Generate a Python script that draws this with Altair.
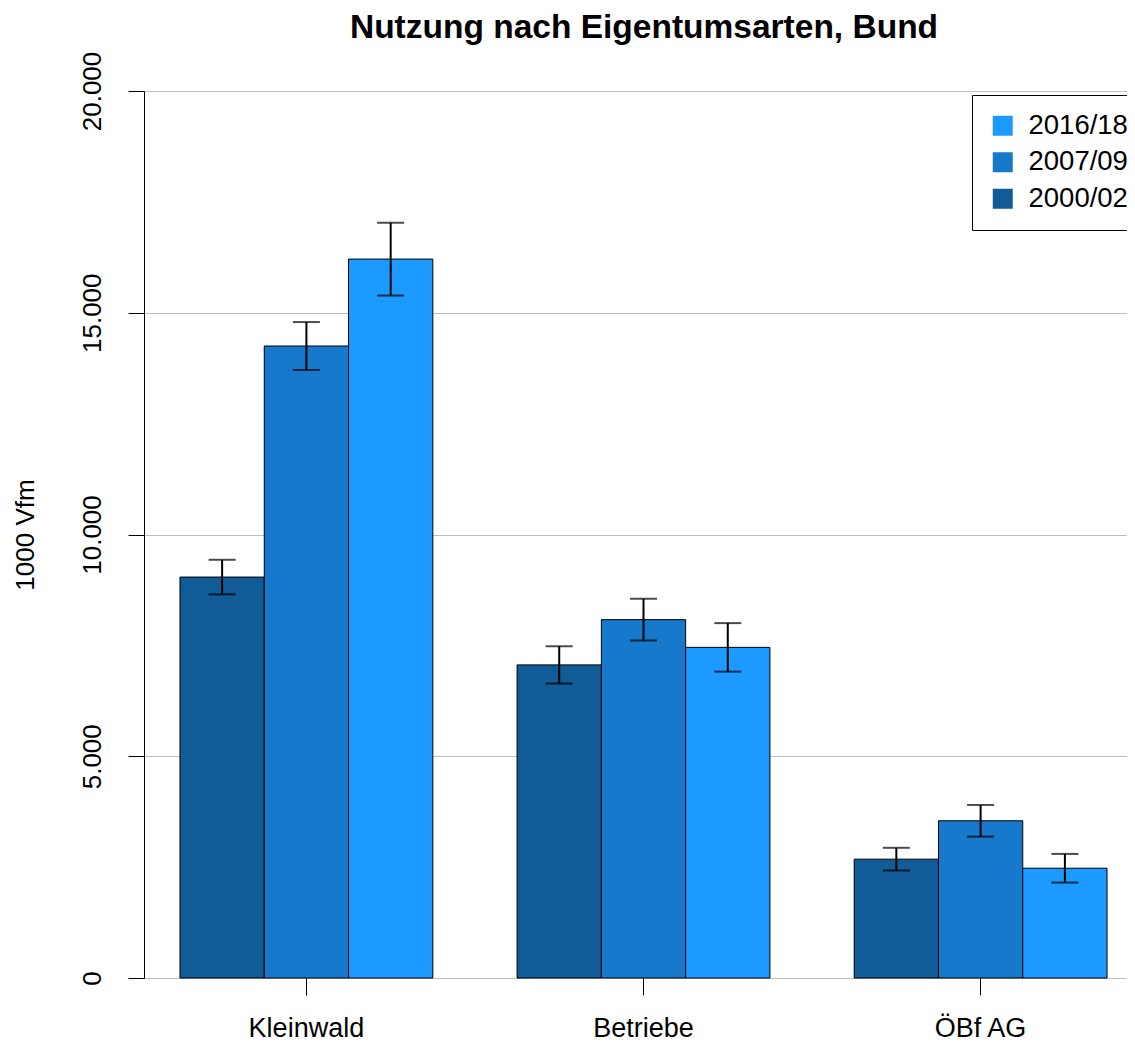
import altair as alt
import pandas as pd

categories = ["Kleinwald", "Betriebe", "ÖBf AG"]
periods = ["2000/02", "2007/09", "2016/18"]
values_2000 = [9040, 7060, 2680]
errors_2000 = [390, 420, 256]
values_2007 = [14250, 8080, 3545]
errors_2007 = [540, 472, 357]
values_2016 = [16210, 7455, 2475]
errors_2016 = [820, 547, 323]
colors = {"2000/02": "#115B97", "2007/09": "#1679CB", "2016/18": "#1C9AFF"}
y_ticks = [0, 5000, 10000, 15000, 20000]

rows = []
for period, vals, errs in [("2000/02", values_2000, errors_2000),
                           ("2007/09", values_2007, errors_2007),
                           ("2016/18", values_2016, errors_2016)]:
    for c, v, e in zip(categories, vals, errs):
        rows.append({"cat": c, "period": period, "value": v, "lo": v - e, "hi": v + e})
df = pd.DataFrame(rows)

FONT = "Liberation Sans"
legend_order = ["2016/18", "2007/09", "2000/02"]
W, H = 983, 887

x_enc = alt.X("cat:N", sort=categories,
              scale=alt.Scale(paddingInner=0.25, paddingOuter=0.083, align=0.643),
              axis=alt.Axis(title=None, domain=False, grid=False, ticks=True, tickSize=17,
                            tickColor="black", tickWidth=1, labelAngle=0,
                            labelFontSize=27, labelFont=FONT, labelColor="black",
                            labelBaseline="alphabetic", labelPadding=41))
xoff = alt.XOffset("period:N", sort=periods, scale=alt.Scale(paddingInner=0, paddingOuter=0))

y_enc = alt.Y("value:Q",
              scale=alt.Scale(domain=[0, 20000], nice=False, zero=True),
              axis=alt.Axis(values=y_ticks, format=",d",
                            labelExpr="replace(datum.label, ',', '.')",
                            labelAngle=270, labelAlign="center", labelBaseline="alphabetic",
                            labelPadding=28, tickSize=16, tickColor="black", domainColor="black",
                            labelFontSize=26, labelFont=FONT, labelColor="black",
                            labelFlush=False, labelOverlap=False,
                            gridColor="#BEBEBE", gridWidth=1,
                            title="1000 Vfm", titleFont=FONT, titleFontSize=26,
                            titleFontWeight="normal", titleColor="black",
                            titleAngle=270, titleAlign="center", titleBaseline="alphabetic",
                            titleX=-110.5, titleY=H / 2))

bars = alt.Chart(df).mark_bar(stroke="black", strokeWidth=1).encode(
    x=x_enc, xOffset=xoff, y=y_enc,
    color=alt.Color("period:N",
                    scale=alt.Scale(domain=legend_order, range=[colors[p] for p in legend_order]),
                    legend=alt.Legend(title=None, orient="none", legendX=828, legendY=4,
                                      symbolType="square", symbolSize=400, symbolStrokeWidth=0,
                                      labelFontSize=27.5, labelFont=FONT, labelColor="black",
                                      labelOffset=12, rowPadding=7.5, padding=17,
                                      strokeColor="black", fillColor="white")),
)

rules = alt.Chart(df).mark_rule(color="black", strokeWidth=2).encode(
    x=alt.X("cat:N", sort=categories), xOffset=xoff,
    y=alt.Y("lo:Q"), y2="hi:Q")

caps_lo = alt.Chart(df).mark_tick(color="black", thickness=2, size=27).encode(
    x=alt.X("cat:N", sort=categories), xOffset=xoff, y=alt.Y("lo:Q"))
caps_hi = alt.Chart(df).mark_tick(color="black", thickness=2, size=27).encode(
    x=alt.X("cat:N", sort=categories), xOffset=xoff, y=alt.Y("hi:Q"))

chart = alt.layer(bars, rules, caps_lo, caps_hi).properties(
    width=W, height=H,
    title=alt.TitleParams("Nutzung nach Eigentumsarten, Bund", fontSize=33.5, font=FONT,
                          fontWeight="bold", anchor="middle", baseline="alphabetic",
                          frame="group", offset=14.5, dx=8.5, dy=34.5, color="black"),
    autosize=alt.AutoSizeParams(type="none"),
    padding={"left": 136, "top": 83, "right": 0, "bottom": 65},
).configure_view(stroke=None).configure(background="white")

chart.save("out.html", embed_options={"renderer": "svg", "actions": False})
